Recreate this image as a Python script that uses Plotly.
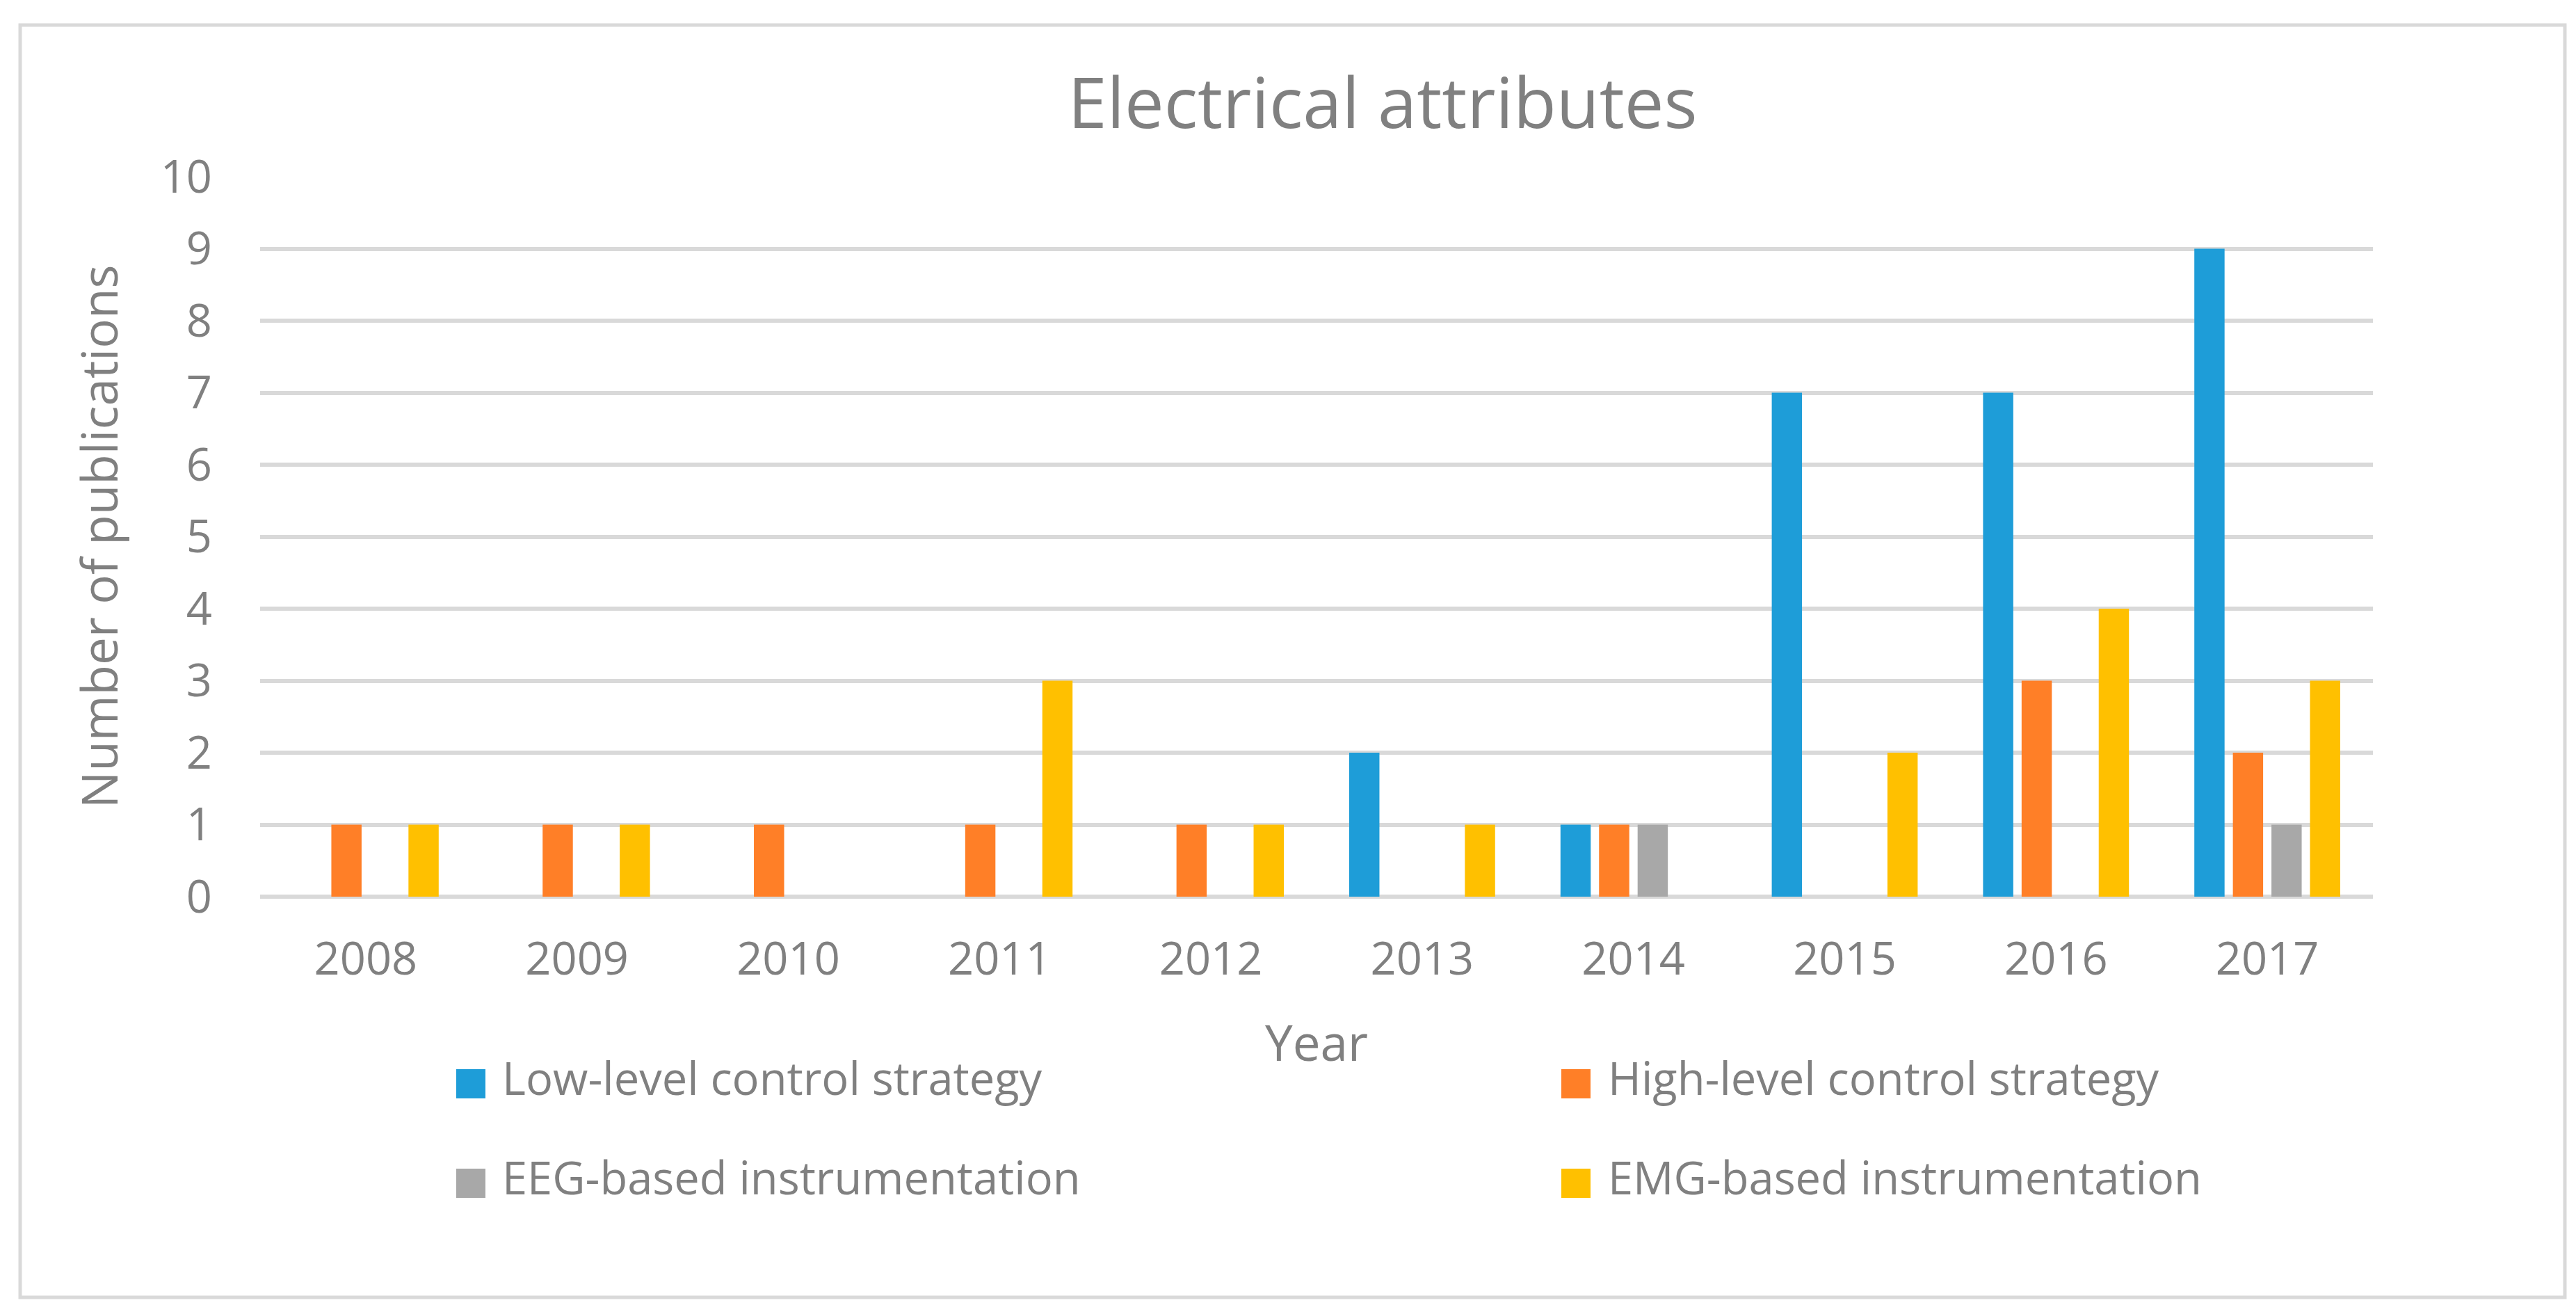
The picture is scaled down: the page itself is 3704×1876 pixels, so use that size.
import plotly.graph_objects as go

# data
years = ["2008", "2009", "2010", "2011", "2012", "2013", "2014", "2015", "2016", "2017"]
series_names = [
    "Low-level control strategy",
    "High-level control strategy",
    "EEG-based instrumentation",
    "EMG-based instrumentation",
]
low_level = [0, 0, 0, 0, 0, 2, 1, 7, 7, 9]
high_level = [1, 1, 1, 1, 1, 0, 1, 0, 3, 2]
eeg_based = [0, 0, 0, 0, 0, 0, 1, 0, 0, 1]
emg_based = [1, 1, 0, 3, 1, 1, 0, 2, 4, 3]
colors = ["#1E9DD8", "#FF7F27", "#A8A8A8", "#FFC000"]

W, H = 3704, 1876
ML, MR, MT, MB = 366, 300, 246, 595
FONT = "'Open Sans', Lato, sans-serif"
GREY_TXT = "#808080"
GRID = "#D9D9D9"


def px2x(px):
    return (px - ML) / (W - ML - MR)


def px2y(py):
    return (H - MB - py) / (H - MT - MB)


fig = go.Figure()
for name, vals, col in zip(series_names, [low_level, high_level, eeg_based, emg_based], colors):
    fig.add_trace(go.Bar(x=years, y=vals, name=name, marker_color=col, marker_line_width=0))

# legend drawn by hand so the keys can be as big as in the original
leg_cols = [(648, 712), (2237, 2302)]
leg_rows = [(1529, 1571, 1541), (1672, 1714, 1684)]
for i, (name, col) in enumerate(zip(series_names, colors)):
    kx, tx = leg_cols[i % 2]
    y0, y1, ty = leg_rows[i // 2]
    fig.add_shape(type="rect", xref="paper", yref="paper",
                  x0=px2x(kx), x1=px2x(kx + 42), y0=px2y(y1), y1=px2y(y0),
                  fillcolor=col, line_width=0)
    fig.add_annotation(xref="paper", yref="paper", x=px2x(tx), y=px2y(ty),
                       text=name, showarrow=False, xanchor="left", yanchor="middle",
                       font=dict(family=FONT, size=65, color=GREY_TXT))

# outer chart border
fig.add_shape(type="rect", xref="paper", yref="paper",
              x0=px2x(21), x1=px2x(3680), y0=px2y(1857), y1=px2y(28),
              line=dict(color=GRID, width=5), fillcolor="rgba(0,0,0,0)", layer="below")

fig.update_layout(
    width=W, height=H,
    margin=dict(l=ML, r=MR, t=MT, b=MB),
    paper_bgcolor="white", plot_bgcolor="white",
    barmode="group", bargap=0.27, bargroupgap=0.216,
    showlegend=False,
    font=dict(family=FONT, color=GREY_TXT),
    title=dict(text="Electrical attributes", x=1980 / W, xref="container", xanchor="center",
               y=1 - 141 / H, yref="container", yanchor="middle",
               font=dict(family=FONT, size=101, color=GREY_TXT)),
)
fig.update_xaxes(type="category", showgrid=False, showline=False, ticks="",
                 tickfont=dict(size=65, color=GREY_TXT), ticklabelstandoff=46,
                 title=dict(text="Year", font=dict(size=71, color=GREY_TXT), standoff=56))
fig.update_yaxes(range=[0, 10], dtick=1, showgrid=True, gridcolor=GRID, gridwidth=6,
                 zeroline=True, zerolinecolor=GRID, zerolinewidth=6, showline=False, ticks="",
                 tickfont=dict(size=65, color=GREY_TXT), ticklabelstandoff=68,
                 title=dict(text="Number of publications", font=dict(size=71, color=GREY_TXT), standoff=37))

fig.write_html("out.html")
